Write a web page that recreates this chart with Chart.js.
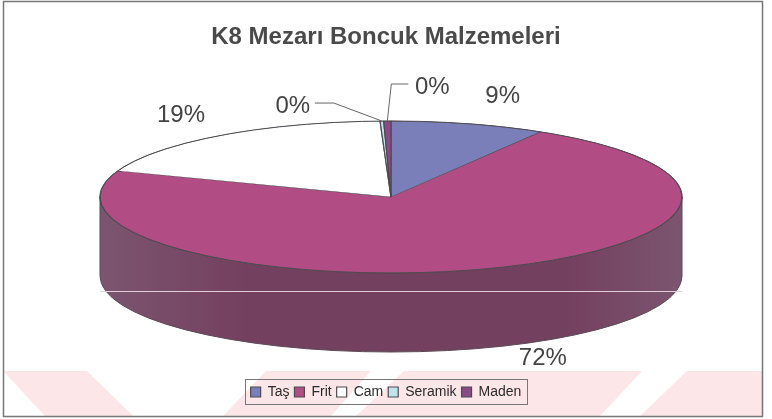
<!DOCTYPE html>
<html>
<head>
<meta charset="utf-8">
<title>K8 Mezarı Boncuk Malzemeleri</title>
<script src="https://cdn.jsdelivr.net/npm/chart.js@4"></script>
<style>
  html, body { margin: 0; padding: 0; background: #fff; }
  #wrap { position: relative; width: 772px; height: 419px; overflow: hidden; }
  #wrap svg, #wrap canvas { position: absolute; left: 0; top: 0; filter: blur(0.5px); }
</style>
</head>
<body>
<div id="wrap">
  <!-- pink watermark bands behind the chart -->
  <svg width="772" height="419">
    <g fill="#fde6e7">
      <polygon points="3,371 87,371 133,416 45,416"/>
      <polygon points="266,371 371,371 331,416 223,416"/>
      <polygon points="404,371 642,371 600,416 356,416"/>
      <polygon points="687,371 762,371 762,416 640,416"/>
    </g>
  </svg>
  <canvas id="pieChart" width="772" height="419"></canvas>
</div>
<script>
const titleText = "K8 Mezarı Boncuk Malzemeleri";
const categories = ["Taş", "Frit", "Cam", "Seramik", "Maden"];
const shares = [8.6, 72.0, 18.8, 0.2, 0.4];
const sliceColors = ["#7a7fba", "#b24c85", "#ffffff", "#bfe4ee", "#8a4a88"];
const sideColors = ["#4f5380", "#74405f", "#999999", "#86a3aa", "#5c3260"];

// where each percent label sits, relative to the rim point of its slice
const labelOffsets = [[34, -27], [55, 90], [-39, -20], [-89, -15], [45, -34]];
// leader lines for the two tiny slices, same reference point
const leaderOffsets = [null, null, null,
  [[0, 0], [-48, -18], [-67, -18]],
  [[0, 0], [4, -37], [21, -37]]];

const tilt = 76 / 291;
const depth = 79;
const topY = 197;
const shiftX = 5;

const pie3d = {
  id: "pie3d",
  beforeDraw(chart) {
    const ctx = chart.ctx;
    ctx.save();
    ctx.strokeStyle = "#777";
    ctx.lineWidth = 1.5;
    ctx.strokeRect(3.5, 1.5, 759, 415);
    ctx.restore();
  },
  beforeDatasetsDraw(chart) {
    const ctx = chart.ctx;
    const arcs = chart.getDatasetMeta(0).data;
    const cx = arcs[0].x + shiftX, rx = arcs[0].outerRadius, ry = rx * tilt;

    // the wall of the disc, front half only
    arcs.forEach((arc, i) => {
      for (const shift of [0, Math.PI * 2]) {
        const a = Math.max(arc.startAngle + shift, 0);
        const b = Math.min(arc.endAngle + shift, Math.PI);
        if (b <= a) continue;
        const grad = ctx.createLinearGradient(cx - rx, 0, cx + rx, 0);
        grad.addColorStop(0, "#7b5570");
        grad.addColorStop(0.25, sideColors[i]);
        grad.addColorStop(0.8, sideColors[i]);
        grad.addColorStop(1, "#7b5570");
        ctx.beginPath();
        ctx.ellipse(cx, topY, rx, ry, 0, a, b);
        ctx.ellipse(cx, topY + depth, rx, ry, 0, b, a, true);
        ctx.closePath();
        ctx.fillStyle = grad;
        ctx.fill();
        ctx.strokeStyle = "#5a4a55";
        ctx.lineWidth = 1;
        ctx.stroke();
      }
    });

    // squash the flat pie into the top of the disc
    ctx.save();
    ctx.translate(shiftX, topY);
    ctx.scale(1, tilt);
    ctx.translate(0, -arcs[0].y);
  },
  afterDatasetsDraw(chart) {
    const ctx = chart.ctx;
    ctx.restore();
    const arcs = chart.getDatasetMeta(0).data;
    const cx = arcs[0].x + shiftX, rx = arcs[0].outerRadius, ry = rx * tilt;

    ctx.save();
    ctx.strokeStyle = "#4f4a50";
    ctx.lineWidth = 1;
    ctx.beginPath();
    ctx.ellipse(cx, topY, rx, ry, 0, 0, Math.PI * 2);
    ctx.stroke();

    // scan line across the wall
    ctx.strokeStyle = "#e3cdd8";
    ctx.beginPath();
    ctx.moveTo(cx - rx, 291.5);
    ctx.lineTo(cx + rx, 291.5);
    ctx.stroke();

    ctx.font = "24px 'Liberation Sans'";
    ctx.textAlign = "center";
    ctx.textBaseline = "middle";
    arcs.forEach((arc, i) => {
      const mid = (arc.startAngle + arc.endAngle) / 2;
      const px = cx + rx * Math.cos(mid);
      const py = topY + ry * Math.sin(mid);
      if (leaderOffsets[i]) {
        ctx.strokeStyle = "#666";
        ctx.lineWidth = 1;
        ctx.beginPath();
        leaderOffsets[i].forEach((o, k) => {
          if (k === 0) ctx.moveTo(px + o[0], py + o[1]);
          else ctx.lineTo(px + o[0], py + o[1]);
        });
        ctx.stroke();
      }
      ctx.fillStyle = "#444";
      ctx.fillText(Math.round(shares[i]) + "%", px + labelOffsets[i][0], py + labelOffsets[i][1]);
    });

    // frame round the legend
    const boxes = chart.legend.legendHitBoxes;
    const first = boxes[0], last = boxes[boxes.length - 1];
    ctx.strokeStyle = "#777";
    ctx.lineWidth = 1;
    ctx.strokeRect(Math.round(first.left) - 5.5, Math.round(first.top) - 5.5,
      Math.round(last.left + last.width - first.left) + 11, Math.round(first.height) + 11);
    ctx.restore();
  }
};

new Chart(document.getElementById("pieChart"), {
  type: "pie",
  data: {
    labels: categories,
    datasets: [{
      data: shares,
      backgroundColor: sliceColors,
      borderColor: "#4f4a50",
      borderWidth: 1.2,
      radius: 291,
      clip: false
    }]
  },
  options: {
    responsive: false,
    animation: false,
    layout: { padding: { top: 23, bottom: 10 } },
    plugins: {
      title: {
        display: true,
        text: titleText,
        color: "#4a4a4a",
        font: { family: "'Liberation Sans'", size: 24, weight: "bold" },
        padding: { top: 0, bottom: 0 }
      },
      legend: {
        position: "bottom",
        labels: {
          boxWidth: 10,
          boxHeight: 10,
          padding: 5,
          color: "#2b2b2b",
          font: { family: "'Liberation Sans'", size: 14 }
        }
      },
      tooltip: { enabled: false }
    }
  },
  plugins: [pie3d]
});
</script>
</body>
</html>
